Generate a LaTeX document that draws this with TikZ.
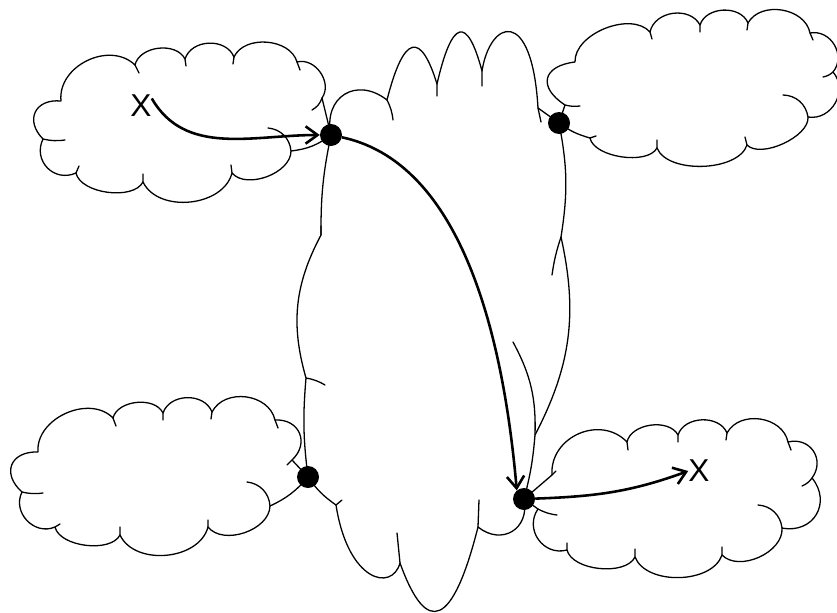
\documentclass[tikz,border=0pt]{standalone}
\usepackage{fontspec}
\setmainfont{Liberation Sans}
\usetikzlibrary{arrows.meta}

\begin{document}
\begin{tikzpicture}[x=0.03cm,y=0.03cm,
  cloud line/.style={line width=1.1pt,line join=round,line cap=round},
  puff/.style={bend left=70,looseness=#1},
  puff/.default=1,
  dot/.style={circle,fill=black,inner sep=0pt,minimum size=0.66cm},
  xtext/.style={inner sep=0pt,font=\fontsize{27}{30}\selectfont},
  flow/.style={line width=2.2pt,-{Straight Barb[length=3.6mm,width=5.2mm]}}]
\useasboundingbox (0,0) rectangle (837,-612);

% Upper left cloud
\draw[cloud line] (61,-101) to[puff=1.1] (135,-65) to[puff=1.0] (185,-59) to[puff=1.1] (234,-57)
  to[puff=1.0] (297,-62) to[puff=1.1] (322,-98) -- (331,-135) to[bend left=15] (291,-151)
  to[puff=0.9] (232,-173) to[puff=1.0] (143,-182) to[puff=0.8] (76,-173)
  to[puff=1.3] (43,-139) to[puff=1.6] (61,-101);
\draw[cloud line] (135,-65) -- (139,-73) (185,-59) -- (186,-66) (234,-57) -- (233,-64)
  (297,-62) -- (300,-70) (322,-98) to[bend left=20] (312,-110) (291,-151) to[bend right=40] (268,-128)
  (232,-173) -- (231,-165) (143,-182) -- (143,-174) (76,-173) -- (79,-166) (43,-139) to[bend right=10] (65,-140);

% Upper right cloud
\draw[cloud line] (575,-62) to[puff=0.9] (650,-32) to[puff=1.1] (700,-25) to[puff=1.05] (748,-23)
  to[puff=1.05] (810,-33) to[puff=1.2] (833,-72) to[puff=1.2] (808,-117) to[puff=0.75] (747,-145)
  to[puff=0.8] (657,-148) to[puff=0.75] (590,-138) to[bend left=10] (559,-123) -- (565,-105)
  to[puff=1.9] (575,-62);
\draw[cloud line] (650,-32) -- (652,-39) (700,-25) -- (700,-32) (748,-23) -- (747,-30)
  (810,-33) -- (813,-40) (833,-72) to[bend left=15] (823,-77) (808,-117) to[bend right=40] (783,-95)
  (747,-145) -- (745,-137) (657,-148) -- (657,-140) (590,-138) -- (596,-136) (565,-105) to[bend right=10] (580,-106);

% Lower left cloud
\draw[cloud line] (38,-452) to[puff=1.05] (113,-418) to[puff=0.95] (163,-413) to[puff=1.1] (212,-412)
  to[puff=1.1] (275,-420) to[puff=1.45] (292,-460) -- (308,-477) to[bend left=12] (270,-506)
  to[puff=0.95] (208,-527) to[puff=1.0] (120,-535) to[puff=0.8] (55,-527)
  to[puff=1.2] (22,-492) to[puff=1.65] (38,-452);
\draw[cloud line] (113,-418) -- (116,-426) (163,-413) -- (163,-420) (212,-412) -- (211,-419)
  (275,-420) -- (278,-428) (292,-460) -- (287,-465) (270,-506) to[bend right=40] (247,-482)
  (208,-527) -- (208,-520) (120,-535) -- (120,-527) (55,-527) -- (60,-524) (22,-492) to[bend right=10] (43,-493);

% Lower right cloud
\draw[cloud line] (552,-475) to[puff=1.2] (627,-442) to[puff=0.95] (678,-435) to[puff=1.05] (727,-433)
  to[puff=1.1] (788,-442) to[puff=1.35] (812,-478) to[puff=1.4] (782,-528) to[puff=0.95] (722,-555)
  to[puff=0.9] (635,-557) to[puff=0.8] (567,-550) to[puff=1.25] (538,-509) -- (524,-499) -- (552,-475);
\draw[cloud line] (552,-475) -- (556,-471) (627,-442) -- (628,-450) (678,-435) -- (678,-442)
  (727,-433) -- (726,-440) (788,-442) -- (791,-450) (812,-478) to[bend left=15] (802,-486)
  (782,-528) to[bend right=40] (758,-505) (722,-555) -- (722,-547) (635,-557) -- (635,-549)
  (567,-550) -- (567,-543) (538,-509) to[bend right=10] (557,-515);

% Tall middle cloud
\draw[cloud line] (331,-135) to[puff=1.5] (387,-100) .. controls (404,-33) and (421,-32) .. (437,-84)
  .. controls (452,-19) and (467,-15) .. (482,-71) .. controls (490,-20) and (532,-5) .. (538,-108)
  -- (559,-123) to[bend left=10] (561,-237) to[bend left=20] (535,-435) to[bend left=5] (524,-499)
  to[puff=1.45] (478,-527) .. controls (453,-626) and (427,-638) .. (400,-563)
  .. controls (392,-592) and (348,-582) .. (336,-505)
  to[bend left=10] (308,-477) to[bend left=6] (306,-378) to[bend left=22] (321,-235)
  to[bend left=6] (331,-135);
\draw[cloud line] (387,-100) to[bend left=10] (393,-120) (437,-84) -- (437,-96) (482,-71) -- (482,-86)
  (538,-108) -- (541,-122) (561,-237) to[bend right=5] (552,-275) (535,-435) to[bend right=15] (513,-342)
  (478,-527) -- (479,-500) (400,-563) -- (397,-533) (336,-505) -- (342,-500)
  (306,-378) to[bend left=10] (325,-385) (321,-235) -- (321,-226);

% Junction dots and end points
\node[dot] (d1) at (331,-135) {};
\node[dot] (d2) at (559,-123) {};
\node[dot] (d3) at (308,-477) {};
\node[dot] (d4) at (524,-499) {};
\node[xtext] (x1) at (141,-106) {X};
\node[xtext] (x2) at (699,-471) {X};

% Route through the middle cloud
\draw[flow] (x1.35) to[out=-60,in=180] (d1);
\draw[flow] (d1) to[out=-12,in=95,looseness=0.85] (d4.130);
\draw[flow] (d4) to[out=2,in=200] (x2.west);
\end{tikzpicture}
\end{document}
